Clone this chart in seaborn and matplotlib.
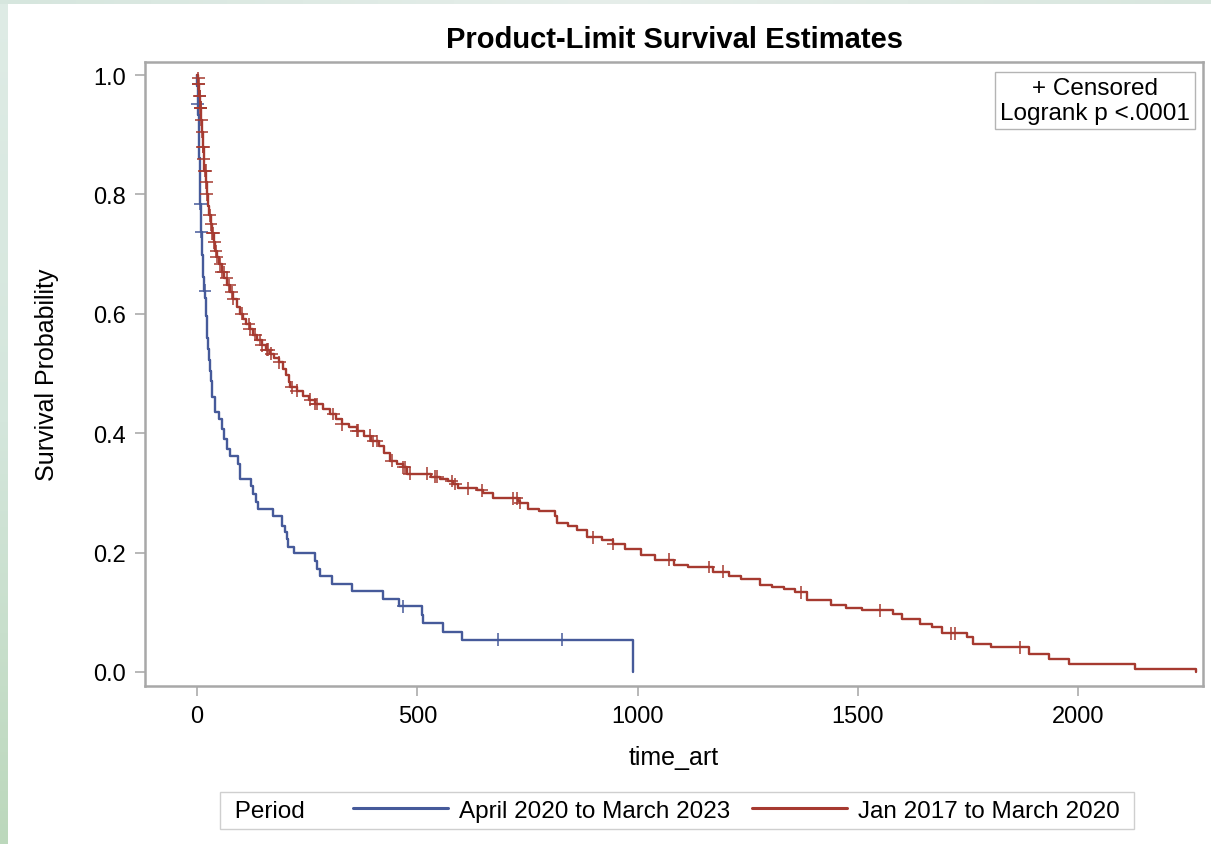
import numpy as np
import pandas as pd
import matplotlib
matplotlib.use("Agg")
import matplotlib.pyplot as plt
from matplotlib.lines import Line2D
import seaborn as sns

# ---------------- data ----------------
periods = ["April 2020 to March 2023", "Jan 2017 to March 2020"]

blue_t = [0, 1, 1.3, 2.5, 3.5, 4.5, 5, 5.5, 6, 6.3, 6.6, 6.8, 8, 9, 11, 12, 13, 14.4, 16, 17,
          19, 19.7, 21, 22, 23.5, 25, 27, 29, 31, 33, 35, 41, 50, 57, 62, 69, 75, 94, 98, 122,
          128, 135, 139, 172, 192, 200, 204, 207, 220, 268, 272, 279, 306, 351, 421, 459, 510,
          512, 558, 601, 990]
blue_s = [1.0, 0.982, 0.951, 0.933, 0.915, 0.897, 0.879, 0.861, 0.843, 0.825, 0.805, 0.784,
          0.760, 0.737, 0.718, 0.699, 0.680, 0.661, 0.650, 0.639, 0.626, 0.614, 0.597, 0.580,
          0.560, 0.541, 0.522, 0.505, 0.488, 0.470, 0.460, 0.435, 0.424, 0.407, 0.390, 0.374,
          0.362, 0.348, 0.324, 0.312, 0.298, 0.285, 0.273, 0.262, 0.245, 0.234, 0.223, 0.209,
          0.199, 0.186, 0.173, 0.160, 0.147, 0.136, 0.123, 0.110, 0.096, 0.082, 0.0675, 0.054,
          0.0]
blue_censor = [1.6, 7.2, 9.5, 18, 468, 684, 828]

red_t = [0, 1.5, 3, 5, 7, 9, 11, 13, 15, 17, 20, 22, 25, 28, 31, 35, 38, 41, 45, 50, 56, 62,
         68, 75, 82, 90, 98, 105, 112, 120, 128, 137, 147, 156, 166, 175, 185, 195, 203, 208,
         212, 226, 241, 255, 268, 285, 302, 315, 328, 345, 362, 380, 396, 412, 425, 438, 455,
         468, 476, 530, 552, 570, 582, 593, 635, 648, 672, 728, 733, 752, 775, 812, 818, 843,
         862, 884, 918, 945, 972, 1008, 1039, 1083, 1114, 1172, 1207, 1234, 1278, 1305, 1331,
         1358, 1385, 1438, 1473, 1510, 1579, 1601, 1641, 1668, 1690, 1748, 1761, 1801, 1889,
         1934, 1978, 2129, 2266]
red_s = [1.0, 0.995, 0.985, 0.965, 0.945, 0.925, 0.905, 0.88, 0.86, 0.84, 0.82, 0.80, 0.78,
         0.765, 0.75, 0.735, 0.72, 0.705, 0.695, 0.683, 0.67, 0.66, 0.648, 0.636, 0.625, 0.612,
         0.60, 0.592, 0.583, 0.575, 0.565, 0.556, 0.547, 0.54, 0.533, 0.526, 0.519, 0.508,
         0.497, 0.485, 0.477, 0.471, 0.463, 0.456, 0.449, 0.44, 0.432, 0.424, 0.415, 0.41,
         0.404, 0.396, 0.387, 0.379, 0.366, 0.354, 0.348, 0.343, 0.332, 0.327, 0.324, 0.320,
         0.315, 0.308, 0.304, 0.299, 0.291, 0.287, 0.283, 0.273, 0.270, 0.262, 0.250, 0.245,
         0.238, 0.2256, 0.2217, 0.2144, 0.206, 0.196, 0.188, 0.179, 0.176, 0.168, 0.160,
         0.156, 0.146, 0.142, 0.139, 0.1335, 0.121, 0.112, 0.108, 0.103, 0.097, 0.089, 0.080,
         0.075, 0.065, 0.058, 0.047, 0.041, 0.030, 0.022, 0.0134, 0.005, 0.0]
red_censor = [2.5, 3.4, 4.3, 6.2, 6.9, 7.5, 8.2, 8.9, 9.8, 11.4, 13.3, 13.9, 15.2, 17.1, 19.7,
              21, 22, 28.5, 31.6, 35, 37, 39.4, 43, 45, 52, 56, 61, 67, 73, 79, 82, 101, 117,
              120, 132, 143, 147, 158, 162, 169, 187, 215, 226, 257, 268, 272, 309, 328, 362,
              366, 393, 400, 408, 442, 468, 472, 483, 521, 540, 545, 578, 586, 616, 646, 718,
              726, 733, 899, 945, 1072, 1161, 1194, 1371, 1551, 1712, 1721, 1867]

x_ticks = [0, 500, 1000, 1500, 2000]
y_ticks = [0.0, 0.2, 0.4, 0.6, 0.8, 1.0]

title = "Product-Limit Survival Estimates"
x_label = "time_art"
y_label = "Survival Probability"
stat_text = "+ Censored\nLogrank p <.0001"
legend_title = "Period"

colors = {periods[0]: "#465a9a", periods[1]: "#a63a30"}


def surv_at(times, t_arr, s_arr):
    t_arr = np.asarray(t_arr)
    s_arr = np.asarray(s_arr)
    idx = np.searchsorted(t_arr, np.asarray(times), side="right") - 1
    return s_arr[idx]


curves = pd.concat([
    pd.DataFrame({"time": blue_t, "surv": blue_s, "Period": periods[0]}),
    pd.DataFrame({"time": red_t, "surv": red_s, "Period": periods[1]}),
], ignore_index=True)
censors = pd.concat([
    pd.DataFrame({"time": blue_censor, "surv": surv_at(blue_censor, blue_t, blue_s),
                  "Period": periods[0]}),
    pd.DataFrame({"time": red_censor, "surv": surv_at(red_censor, red_t, red_s),
                  "Period": periods[1]}),
], ignore_index=True)

# ---------------- figure ----------------
sns.set_theme(style="white")
plt.rcParams["font.family"] = ["Liberation Sans", "DejaVu Sans"]
plt.rcParams["text.color"] = "black"
plt.rcParams["axes.labelcolor"] = "black"
plt.rcParams["axes.titlecolor"] = "black"

W, H = 1211, 845
fig = plt.figure(figsize=(W / 100, H / 100), dpi=100)
fig.patch.set_facecolor("white")

# decorative screenshot background strips (left and top)
bg_l = fig.add_axes([0, 0, 8 / W, 1])
grad = np.linspace(0, 1, 256).reshape(-1, 1)
bg_l.imshow(grad, aspect="auto", cmap=matplotlib.colors.LinearSegmentedColormap.from_list(
    "g", ["#bcd8bc", "#d4e6dc", "#dfece6"]), origin="lower", extent=[0, 1, 0, 1])
bg_l.axis("off")
bg_t = fig.add_axes([0, 1 - 5 / H, 1, 5 / H])
bg_t.imshow(np.linspace(0, 1, 256).reshape(1, -1), aspect="auto",
            cmap=matplotlib.colors.LinearSegmentedColormap.from_list(
                "t", ["#d6e6de", "#e6eeea", "#d8e6de"]), extent=[0, 1, 0, 1])
bg_t.axis("off")

ax = fig.add_axes([145 / W, 1 - 687 / H, 1058 / W, 624 / H])
ax.set_facecolor("white")

sns.lineplot(data=curves, x="time", y="surv", hue="Period", palette=colors,
             estimator=None, sort=False, drawstyle="steps-post", linewidth=1.7,
             legend=False, ax=ax)
sns.scatterplot(data=censors, x="time", y="surv", hue="Period", palette=colors,
                marker="+", s=85, linewidth=1.1, legend=False, ax=ax, zorder=3)

ax.set_xlim(-118, 2283)
ax.set_ylim(-0.0235, 1.0218)
ax.set_xticks(x_ticks)
ax.set_xticklabels([str(v) for v in x_ticks])
ax.set_yticks(y_ticks)
ax.set_yticklabels([f"{v:.1f}" for v in y_ticks])
ax.tick_params(axis="both", which="major", bottom=True, left=True, direction="out",
               length=7.5, width=1.1, color="#a4a4a4", labelsize=17, labelcolor="black",
               pad=6.5)
for sp in ax.spines.values():
    sp.set_visible(True)
    sp.set_color("#a8a8a8")
    sp.set_linewidth(1.8)

ax.set_title(title, fontsize=21, fontweight="bold", pad=11, color="black")
ax.set_xlabel(x_label, fontsize=18, color="black")
ax.set_ylabel(y_label, fontsize=18, color="black")
ax.xaxis.set_label_coords(0.5, -0.095)
ax.yaxis.set_label_coords(-0.081, 0.5)

ax.text(0.898, 0.9385, stat_text, transform=ax.transAxes, ha="center", va="center",
        multialignment="center", fontsize=17.5, linespacing=1.22, zorder=5, color="black",
        bbox=dict(boxstyle="square,pad=0.2", fc="white", ec="#b4b4b4", lw=1.0))

handles = [Line2D([], [], color=colors[p], lw=2.2) for p in periods]
leg = fig.legend(handles, [periods[0], periods[1] + " "], title=" " + legend_title + "    ",
                 loc="center", bbox_to_anchor=(677 / W, 1 - 811.5 / H), ncol=2,
                 fontsize=17.5, title_fontsize=17.5, frameon=True, fancybox=False,
                 edgecolor="#c4c4c4", handlelength=3.9, handletextpad=0.45,
                 columnspacing=0.9, borderpad=0.3)
leg.get_frame().set_linewidth(1.0)
for t in leg.get_texts():
    t.set_color("black")
leg.get_title().set_color("black")
# place the legend title inline, to the left of the entries
vbox = leg._legend_box
tbox = leg._legend_title_box
hbox = leg._legend_handle_box
vbox.get_children().remove(tbox)
hbox.get_children().insert(0, tbox)

fig.savefig("out.png", dpi=100, facecolor=fig.get_facecolor())
